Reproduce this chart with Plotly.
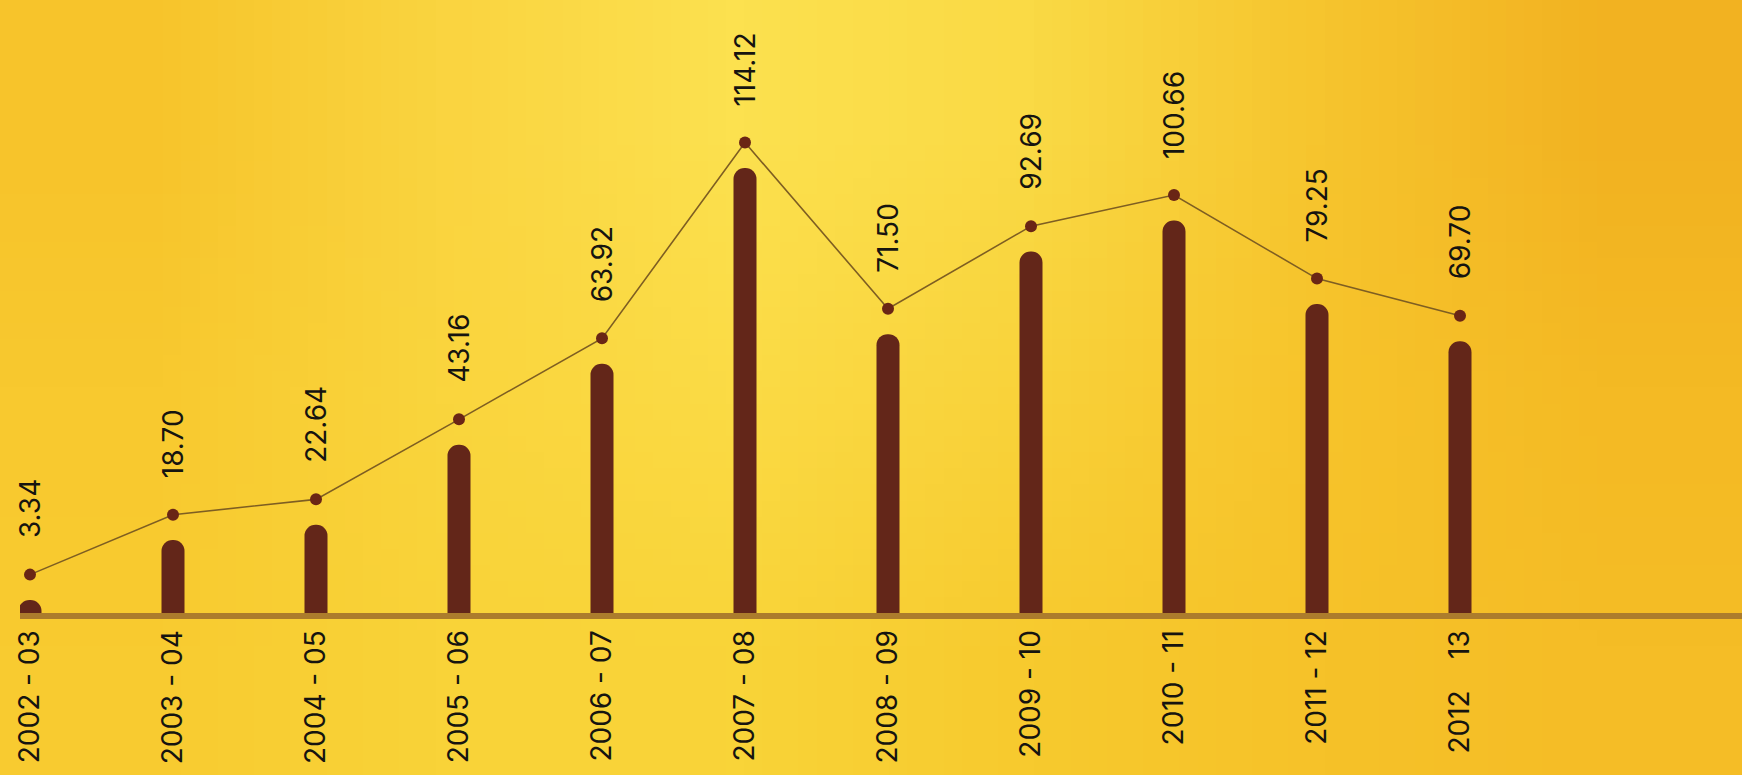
import base64
import struct
import zlib

import plotly.graph_objects as go

# ---- data -------------------------------------------------------------
periods = [
    "2002 - 03", "2003 - 04", "2004 - 05", "2005 - 06", "2006 - 07",
    "2007 - 08", "2008 - 09", "2009 - 10", "2010 - 11", "2011 - 12",
    "2012    13",
]
values = [3.34, 18.70, 22.64, 43.16, 63.92, 114.12, 71.50, 92.69, 100.66, 79.25, 69.70]
value_labels = [f"{v:.2f}" for v in values]

# ---- styling ----------------------------------------------------------
W, H = 1742, 775
BAR = "#632619"
DOT = "#6A2515"
LINE = "#7E5E22"
BASE = "#AC7C2C"
TEXT = "#161410"
FONT = "Inter"

# soft golden paper backdrop: a tiny RGB grid stretched over the page
bg_grid = [
    ["#F7C42B", "#FAD440", "#FCE14F", "#FADA45", "#F6C52E", "#F2B221"],
    ["#F8C92F", "#FAD53D", "#FBDB45", "#F9D23A", "#F7C42B", "#F4BA24"],
    ["#F8CB30", "#F9D338", "#F9D438", "#F7CA2E", "#F6C229", "#F5BD26"],
]


def hex_rgb(h):
    h = h.lstrip("#")
    return tuple(int(h[i:i + 2], 16) for i in (0, 2, 4))


def png_uri(grid):
    rows = [[hex_rgb(c) for c in row] for row in grid]
    h, w = len(rows), len(rows[0])
    raw = b"".join(b"\x00" + bytes(v for px in row for v in px) for row in rows)

    def chunk(tag, data):
        return (struct.pack(">I", len(data)) + tag + data
                + struct.pack(">I", zlib.crc32(tag + data) & 0xFFFFFFFF))

    png = (b"\x89PNG\r\n\x1a\n"
           + chunk(b"IHDR", struct.pack(">IIBBBBB", w, h, 8, 2, 0, 0, 0))
           + chunk(b"IDAT", zlib.compress(raw, 9))
           + chunk(b"IEND", b""))
    return "data:image/png;base64," + base64.b64encode(png).decode()


# ---- geometry of the axes ---------------------------------------------
px_per_unit = 3.9          # vertical scale of the bars
base_px = 613              # baseline position from the top of the page
step_px = 143              # spacing between periods
first_px = 30              # centre of the first period
x_left_px = 20             # left end of the category axis (baseline start)
dot_lift = 6.5             # line markers sit this many units above the bars

y_top = base_px / px_per_unit
x0 = -(first_px - x_left_px) / step_px
x1 = x0 + (W - x_left_px) / step_px

fig = go.Figure()

fig.add_trace(go.Bar(
    x=periods, y=values,
    marker=dict(color=BAR, cornerradius="50%", line=dict(width=0)),
    yaxis="y", hoverinfo="skip",
))

fig.add_trace(go.Scatter(
    x=periods, y=values, mode="lines+markers",
    line=dict(color=LINE, width=1.6),
    marker=dict(size=12, color=DOT),
    yaxis="y2", hoverinfo="skip", cliponaxis=False,
))

for p, v, lab in zip(periods, values, value_labels):
    fig.add_annotation(
        x=p, y=v, xref="x", yref="y2", text=lab, showarrow=False,
        textangle=-90, yanchor="bottom", xanchor="center", yshift=34,
        font=dict(family=FONT, size=28, color=TEXT),
    )

fig.update_layout(
    width=W, height=H,
    margin=dict(l=0, r=0, t=0, b=0, autoexpand=False),
    paper_bgcolor="#F8CC32", plot_bgcolor="rgba(0,0,0,0)",
    showlegend=False,
    bargap=1 - 23 / step_px,
    images=[dict(
        source=png_uri(bg_grid), xref="paper", yref="paper",
        x=0, y=1, sizex=1, sizey=1, xanchor="left", yanchor="top",
        sizing="stretch", layer="below",
    )],
    xaxis=dict(
        type="category", range=[x0, x1], automargin=False,
        domain=[x_left_px / W, 1], anchor="y",
        showline=True, linewidth=6, linecolor=BASE,
        showgrid=False, zeroline=False, ticks="",
        tickangle=-90, ticklabelstandoff=0,
        tickfont=dict(family=FONT, size=28, color=TEXT),
    ),
    yaxis=dict(
        domain=[(H - base_px) / H, 1], range=[0, y_top], automargin=False,
        visible=False, showgrid=False, zeroline=False,
    ),
    yaxis2=dict(
        overlaying="y", range=[-dot_lift, y_top - dot_lift], automargin=False,
        visible=False, showgrid=False, zeroline=False,
    ),
)

fig.write_html("out.html", config={"displayModeBar": False})
